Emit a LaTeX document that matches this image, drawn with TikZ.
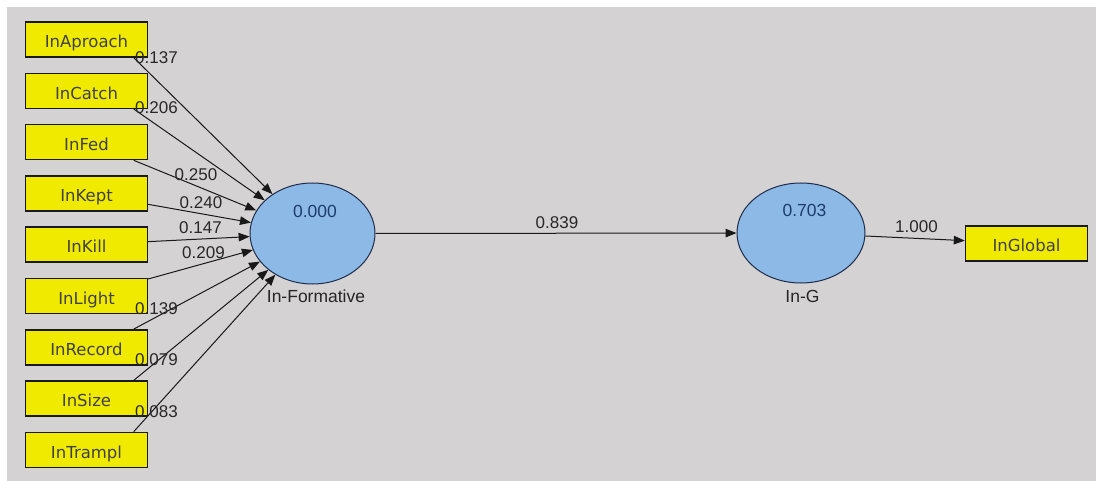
\documentclass[tikz,border=0pt]{standalone}
\usepackage{fontspec}
\setmainfont{Liberation Sans}
\newfontfamily\boxfont{DejaVu Sans}
\usetikzlibrary{arrows.meta,calc,shapes.geometric}

\definecolor{canvas}{RGB}{212,210,211}
\definecolor{indfill}{RGB}{240,234,0}
\definecolor{latfill}{RGB}{140,185,230}
\definecolor{latline}{RGB}{30,45,75}
\definecolor{numcol}{RGB}{40,40,40}
\definecolor{latnum}{RGB}{30,60,110}

\begin{document}
\begin{tikzpicture}[x=1pt,y=-1pt,
  indicator/.style={draw=black!90, line width=1.4pt, fill=indfill,
    minimum width=122pt, minimum height=35pt, inner sep=0pt,
    text height=16.5pt, text depth=0pt, text=black!75,
    font=\boxfont\fontsize{16.5}{18}\selectfont},
  latent/.style={ellipse, draw=latline, line width=1pt, fill=latfill, inner sep=0pt},
  link/.style={draw=black!90, line width=1pt, -{Triangle[length=11pt,width=8.5pt]}},
  coef/.style={font=\fontsize{17}{19}\selectfont, text=numcol, inner sep=0pt},
  latval/.style={font=\fontsize{17.5}{19}\selectfont, text=latnum, inner sep=0pt},
  latname/.style={font=\fontsize{17.5}{19}\selectfont, text=black!85, inner sep=0pt}
]
\useasboundingbox (0,0) rectangle (1098,481);
% canvas
\fill[white] (0,0) rectangle (1098,481);
\fill[canvas] (7,7) rectangle (1096,481);

% indicator boxes of the formative construct
\node[indicator] (ap) at (86.5,39.5)  {InAproach};
\node[indicator] (ca) at (86.5,90.8)  {InCatch};
\node[indicator] (fe) at (86.5,142.1) {InFed};
\node[indicator] (ke) at (86.5,193.4) {InKept};
\node[indicator] (ki) at (86.5,244.7) {InKill};
\node[indicator] (li) at (86.5,296.0) {InLight};
\node[indicator] (re) at (86.5,347.3) {InRecord};
\node[indicator] (si) at (86.5,398.6) {InSize};
\node[indicator] (tr) at (86.5,449.9) {InTrampl};

% latent variables
\node[latent, minimum width=125pt, minimum height=101pt] (form) at (312.5,233.5) {};
\node[latent, minimum width=128pt, minimum height=100pt] (ing) at (801,233) {};
\node[latval] (formval) at (315,211) {0.000};
\node[latval] (ingval) at (804.5,210) {0.703};
\node[latname] (formname) at (316,296) {In-Formative};
\node[latname] (ingname) at (802.5,296) {In-G};

% reflective indicator
\node[indicator] (glob) at (1026.5,243.5) {InGlobal};

% start points of the outer links
\coordinate (apS) at ($(ap.south east)+(-14.5,0)$);
\coordinate (caS) at ($(ca.south east)+(-14.5,0)$);
\coordinate (feS) at ($(fe.south east)+(-14.5,0)$);
\coordinate (reS) at ($(re.north east)+(-14.5,0)$);
\coordinate (siS) at ($(si.north east)+(-14.5,0)$);
\coordinate (trS) at ($(tr.north east)+(-14.5,0)$);

% links
\draw[link] (apS) -- (form);
\draw[link] (caS) -- (form);
\draw[link] (feS) -- (form);
\draw[link] (ke) -- (form);
\draw[link] (ki) -- (form);
\draw[link] (li) -- (form);
\draw[link] (reS) -- (form);
\draw[link] (siS) -- (form);
\draw[link] (trS) -- (form);
\draw[link] (form) -- (ing);
\draw[link] (ing) -- (glob);

% weights and coefficients
\node[coef] (wap) at (156.5,57.5) {0.137};
\node[coef] (wca) at (156.5,108)  {0.206};
\node[coef] (wfe) at (196,175)    {0.250};
\node[coef] (wke) at (201,203)    {0.240};
\node[coef] (wki) at (200.5,228)  {0.147};
\node[coef] (wli) at (203.5,253)  {0.209};
\node[coef] (wre) at (156.5,309)  {0.139};
\node[coef] (wsi) at (156.5,360)  {0.079};
\node[coef] (wtr) at (156.5,412)  {0.083};
\node[coef] (pfg) at (557,222.5)  {0.839};
\node[coef] (lgl) at (916.5,227)  {1.000};
\end{tikzpicture}
\end{document}
